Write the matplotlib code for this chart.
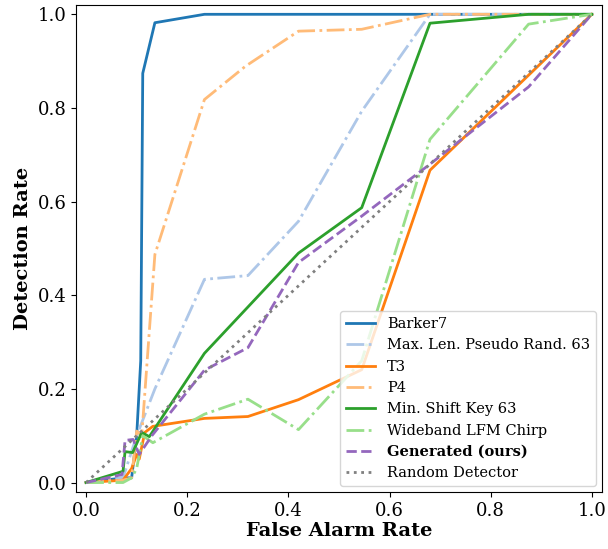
import numpy as np
import matplotlib
matplotlib.use("Agg")
import matplotlib.pyplot as plt

plt.rcParams['font.family'] = 'DejaVu Serif'

barker_x = [0, 0.073, 0.09, 0.1, 0.108, 0.112, 0.136, 0.234, 1.0]
barker_y = [0, 0.01, 0.01, 0.1, 0.26, 0.874, 0.982, 1.0, 1.0]

mlpr_x = [0, 0.073, 0.1, 0.136, 0.234, 0.32, 0.42, 0.545, 0.68, 1.0]
mlpr_y = [0, 0.01, 0.1, 0.2, 0.434, 0.442, 0.558, 0.793, 1.0, 1.0]

t3_x = [0, 0.073, 0.09, 0.1, 0.105, 0.116, 0.132, 0.234, 0.32, 0.42, 0.545, 0.68, 0.875, 1.0]
t3_y = [0, 0.005, 0.03, 0.06, 0.05, 0.107, 0.12, 0.137, 0.141, 0.177, 0.241, 0.667, 0.87, 1.0]

p4_x = [0, 0.073, 0.09, 0.1, 0.11, 0.136, 0.234, 0.315, 0.42, 0.545, 0.68, 1.0]
p4_y = [0, 0.005, 0.01, 0.11, 0.1, 0.487, 0.818, 0.889, 0.964, 0.968, 1.0, 1.0]

msk_x = [0, 0.073, 0.077, 0.092, 0.1, 0.11, 0.125, 0.234, 0.42, 0.545, 0.68, 0.875, 1.0]
msk_y = [0, 0.024, 0.066, 0.064, 0.083, 0.107, 0.098, 0.276, 0.49, 0.587, 0.981, 1.0, 1.0]

lfm_x = [0, 0.073, 0.09, 0.1, 0.112, 0.132, 0.234, 0.32, 0.42, 0.545, 0.68, 0.875, 1.0]
lfm_y = [0, 0.0, 0.01, 0.03, 0.1, 0.085, 0.146, 0.178, 0.113, 0.26, 0.733, 0.979, 1.0]

gen_x = [0, 0.071, 0.077, 0.093, 0.105, 0.13, 0.234, 0.32, 0.42, 0.545, 0.68, 0.875, 1.0]
gen_y = [0, 0.017, 0.09, 0.092, 0.06, 0.1, 0.24, 0.288, 0.47, 0.569, 0.68, 0.845, 1.0]

rand_x = [0, 1]
rand_y = [0, 1]

fig = plt.figure(figsize=(6.08, 5.49), dpi=100)
ax = fig.add_axes([0.125, 0.104, 0.865, 0.887])

lw = 2
ax.plot(barker_x, barker_y, color='#1f77b4', lw=lw, label='Barker7')
ax.plot(mlpr_x, mlpr_y, color='#aec7e8', lw=lw, ls='-.', label='Max. Len. Pseudo Rand. 63')
ax.plot(t3_x, t3_y, color='#ff7f0e', lw=lw, label='T3')
ax.plot(p4_x, p4_y, color='#ffbb78', lw=lw, ls='-.', label='P4')
ax.plot(msk_x, msk_y, color='#2ca02c', lw=lw, label='Min. Shift Key 63')
ax.plot(lfm_x, lfm_y, color='#98df8a', lw=lw, ls='-.', label='Wideband LFM Chirp')
ax.plot(gen_x, gen_y, color='#9467bd', lw=lw, ls='--', label='Generated (ours)')
ax.plot(rand_x, rand_y, color='gray', lw=lw, ls=':', label='Random Detector')

ax.set_xlim(-0.02, 1.02)
ax.set_ylim(-0.02, 1.02)
ax.tick_params(labelsize=13)
ax.set_xlabel('False Alarm Rate', fontsize=14, fontweight='bold', labelpad=2)
ax.set_ylabel('Detection Rate', fontsize=14, fontweight='bold')

leg = ax.legend(loc='lower right', fontsize=10.5, borderaxespad=0.4)
leg.get_texts()[6].set_fontweight('bold')

plt.savefig('out.png')
